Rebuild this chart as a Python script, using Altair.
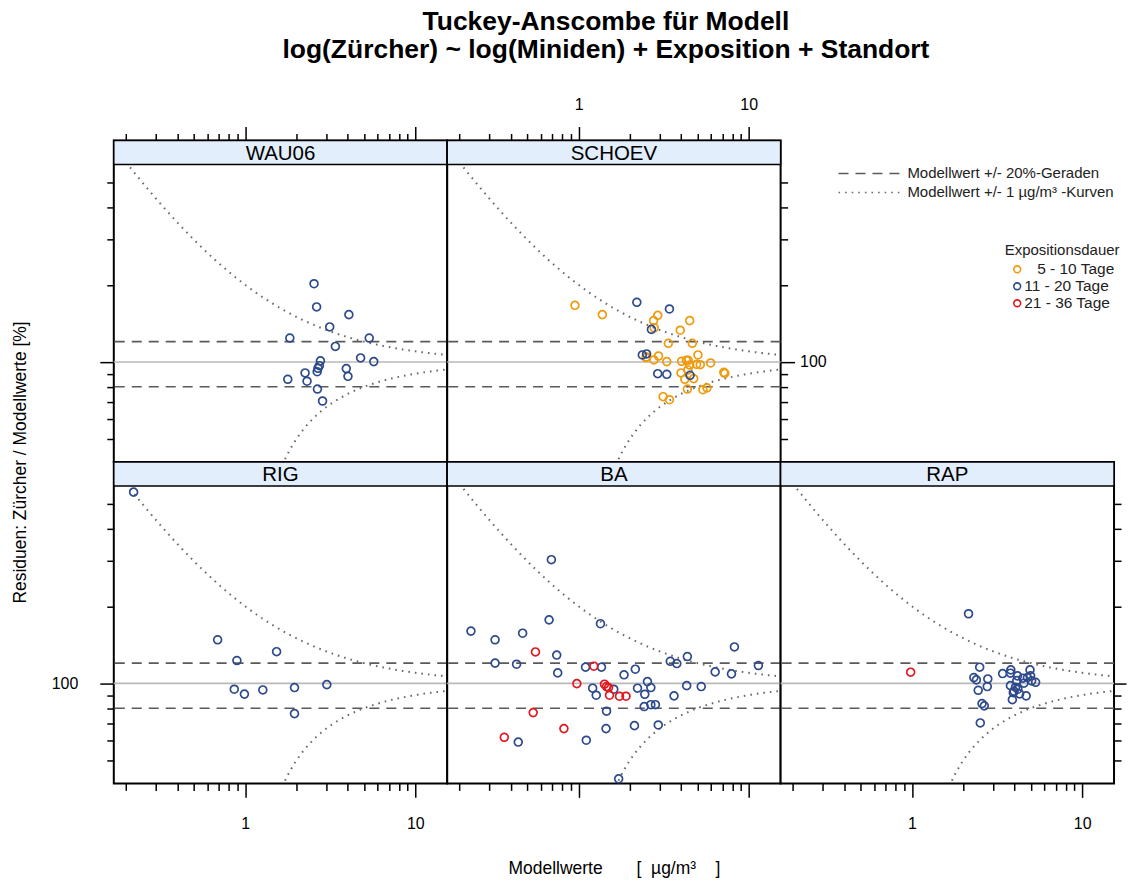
import altair as alt
import pandas as pd

FONT = "Liberation Sans"

# ---------------- data ----------------
x_minor_ticks = [0.2, 0.3, 0.4, 0.5, 0.6, 0.7, 0.8, 0.9, 2, 3, 4, 5, 6, 7, 8, 9]
x_major_ticks = [1, 10]
y_minor_ticks = [50, 60, 70, 80, 90, 200, 300, 400, 500]
y_major_ticks = [100]
x_domain = [0.169, 15.4]
y_domain = [40.7, 590]

ref_line = [100]            # Modellwert
ref_band = [80, 120]        # Modellwert +/- 20 %
ref_offset_ug = 1           # Modellwert +/- 1 ug/m3

duration_labels = ["5 - 10 Tage", "11 - 20 Tage", "21 - 36 Tage"]
duration_colors = ["#F09A0C", "#2D4A8C", "#E3171E"]

sites = ["WAU06", "SCHOEV", "RIG", "BA", "RAP"]

# WAU06
wau06_11_20_x = [2.54, 2.63, 4.07, 3.14, 1.83, 5.36, 3.39, 2.77, 4.77, 5.70, 2.73, 2.68, 2.65, 2.25, 3.93, 1.78, 2.31, 4.02, 2.66, 2.85]
wau06_11_20_y = [202, 164, 153, 137, 124, 124, 115, 101, 103.7, 100.3, 96.7, 94.5, 91.6, 90.6, 94.2, 85.6, 84.1, 87.9, 78.4, 70.4]

# SCHOEV
schoev_5_10_x = [0.952, 1.38, 2.92, 2.76, 4.50, 3.96, 3.37, 4.66, 2.95, 5.03, 2.49, 2.77, 3.30, 4.03, 4.30, 4.41, 4.94, 5.19, 5.97, 4.00, 4.21, 4.75, 4.39, 7.14, 7.24, 4.36, 5.38, 5.68, 3.14, 3.42, 2.51, 2.78, 4.50]
schoev_5_10_y = [166.4, 153, 152, 145, 145, 133, 118.3, 118.3, 105.5, 106.5, 104, 101.8, 100.3, 100.6, 101.5, 101.5, 97.9, 97.6, 99.1, 90.6, 85.6, 86.1, 93.1, 91.1, 90.3, 78.4, 77.9, 79.3, 73.2, 71.2, 104.6, 136, 97.3]
schoev_11_20_x = [2.20, 3.42, 2.68, 2.37, 2.51, 2.92, 3.30, 4.52]
schoev_11_20_y = [171, 161, 134, 106.5, 107.5, 90, 89.5, 88.7]

# RIG
rig_11_20_x = [0.221, 0.689, 0.894, 1.53, 0.863, 0.99, 1.27, 1.95, 3.02, 1.95]
rig_11_20_y = [558, 148, 122.8, 133, 94.9, 90.8, 94.3, 96.3, 98.9, 76.2]

# BA
ba_11_20_x = [0.692, 0.233, 0.323, 0.469, 0.671, 1.345, 0.744, 0.323, 0.432, 0.754, 1.099, 1.363, 1.85, 2.155, 3.46,
              3.78, 4.36, 8.24, 11.4, 6.35, 7.92, 2.54, 2.66, 2.22, 1.21, 1.27, 1.61, 2.45, 3.64, 4.32,
              5.26, 2.43, 2.66, 2.83, 1.46, 1.45, 2.13, 2.94, 1.11, 0.442, 1.72]
ba_11_20_y = [304, 160, 148, 157, 177, 171, 129, 120, 118.8, 109.9, 115.7, 115.7, 108, 113.6, 122,
              119.5, 127.3, 138.8, 117.4, 110.9, 108.9, 101.6, 96.3, 95.8, 95.8, 89.9, 94.9, 90.7, 89.4, 98,
              97.2, 81.2, 82.6, 82.6, 77.9, 66.6, 68.4, 68.8, 60, 59, 42.4]
ba_21_36_x = [0.558, 1.23, 0.977, 1.42, 1.46, 1.50, 1.52, 1.74, 1.90, 0.541, 0.82, 0.366]
ba_21_36_y = [132.7, 116.7, 99.8, 99.3, 97.2, 96.3, 89.9, 89.1, 89.1, 76.9, 66.6, 61.6]

# RAP
rap_11_20_x = [2.15, 2.50, 2.31, 2.39, 2.79, 2.77, 2.45, 2.58, 2.66, 2.52, 3.41, 3.81, 3.79, 4.17, 4.48,
               4.94, 4.98, 4.77, 5.33, 5.05, 4.13, 4.55, 3.79, 4.06, 3.98, 4.29, 4.69, 3.89, 4.19, 3.94]
rap_11_20_y = [187, 115.7, 105.4, 103.2, 104.1, 97.2, 94, 83.4, 81.7, 70.1, 109.2, 112.9, 109.6, 107, 104.8,
               112.9, 107, 105.3, 101, 102.3, 102.5, 100.2, 98, 96.6, 93.2, 91, 89.4, 86.4, 94.9, 92]
rap_21_36_x = [0.982]
rap_21_36_y = [110.6]

NB = "\u00a0"
title_lines = ["Tuckey-Anscombe für Modell",
               "log(Zürcher) ~ log(Miniden) + Exposition + Standort"]
x_title = "Modellwerte" + NB * 7 + "[" + NB * 2 + "µg/m³" + NB * 4 + "]"
y_title = "Residuen: Zürcher / Modellwerte [%]"
ref_labels = ["Modellwert +/- 20%-Geraden", "Modellwert +/- 1 µg/m³ -Kurven"]
legend_title = "Expositionsdauer"

site_series = {
    "WAU06": [(duration_labels[1], wau06_11_20_x, wau06_11_20_y)],
    "SCHOEV": [(duration_labels[0], schoev_5_10_x, schoev_5_10_y),
               (duration_labels[1], schoev_11_20_x, schoev_11_20_y)],
    "RIG": [(duration_labels[1], rig_11_20_x, rig_11_20_y)],
    "BA": [(duration_labels[1], ba_11_20_x, ba_11_20_y),
           (duration_labels[2], ba_21_36_x, ba_21_36_y)],
    "RAP": [(duration_labels[1], rap_11_20_x, rap_11_20_y),
            (duration_labels[2], rap_21_36_x, rap_21_36_y)],
}

# ---------------- layout / style ----------------
W = 334
SH = 24
PH = 298
H = SH + PH
STRIP_FILL = "#E3EEFC"
DASH = [10, 7]
DOT = [1.6, 5]
DASH_COLOR = "#5A5A5A"
DOT_COLOR = "#6A6A6A"
TICK_FONT_SIZE = 16

xscale = alt.Scale(type="log", domain=x_domain, nice=False)
yscale = alt.Scale(type="log", domain=y_domain, range=[H, SH], nice=False)
cscale = alt.Scale(domain=duration_labels, range=duration_colors)

LABEL_PAD = {"top": 14, "bottom": 18, "left": 22, "right": 5}


def axis(orient, values, size, labels, extra=None):
    kw = dict(orient=orient, values=values, tickSize=size, tickWidth=1.5,
              tickColor="black", domain=False, grid=False, labels=labels,
              format=".0f", labelFont=FONT, labelFontSize=TICK_FONT_SIZE, labelColor="black",
              labelPadding=LABEL_PAD[orient], title=None)
    if extra:
        kw.update(extra)
    return alt.Axis(**kw)


panel_cfg = {
    "WAU06": dict(xo="top", xl=False, yo="left", yl=False, ymaj=14,
                  yextra=dict(title=y_title, titleX=-93, titleY=H, titleAngle=270,
                              titleAlign="center", titleBaseline="middle",
                              titleFont=FONT, titleFontSize=17.5, titleFontWeight="normal",
                              titleColor="black")),
    "SCHOEV": dict(xo="top", xl=True, yo="right", yl=True, ymaj=14),
    "RIG": dict(xo="bottom", xl=True, yo="left", yl=True, ymaj=14),
    "BA": dict(xo="bottom", xl=False, yo=None, yl=False, ymaj=14,
               xextra=dict(title=x_title, titleY=85, titleBaseline="middle",
                           titleFont=FONT, titleFontSize=17.5, titleFontWeight="normal",
                           titleColor="black")),
    "RAP": dict(xo="bottom", xl=True, yo="right", yl=False, ymaj=12),
}


def make_panel(site):
    cfg = panel_cfg[site]
    xa_minor = axis(cfg["xo"], x_minor_ticks, 7, False)
    xa_major = axis(cfg["xo"], x_major_ticks, 14, cfg["xl"], cfg.get("xextra"))
    if cfg["yo"]:
        ya_minor = axis(cfg["yo"], y_minor_ticks, 7, False)
        ya_major = axis(cfg["yo"], y_major_ticks, cfg["ymaj"], cfg["yl"], cfg.get("yextra"))
    else:
        ya_minor = None
        ya_major = None

    rows = []
    for lab, xs, ys in site_series[site]:
        for xv, yv in zip(xs, ys):
            rows.append({"modell": xv, "resid": yv, "dauer": lab})
    df = pd.DataFrame(rows)

    hline = alt.Chart(pd.DataFrame({"v": ref_line})).mark_rule(
        color="#B9B9B9", strokeWidth=1.6
    ).encode(y=alt.Y("v:Q", scale=yscale, axis=None))

    band = alt.Chart(pd.DataFrame({"v": ref_band})).mark_rule(
        color=DASH_COLOR, strokeWidth=1.6, strokeDash=DASH
    ).encode(y=alt.Y("v:Q", scale=yscale, axis=None))

    curves = alt.Chart(alt.sequence(0, 241, as_="i")).transform_calculate(
        modell=f"exp(log({x_domain[0]}) + datum.i * (log({x_domain[1]}) - log({x_domain[0]})) / 240)"
    ).transform_calculate(
        upper=f"100 * (datum.modell + {ref_offset_ug}) / datum.modell",
        lower=f"100 * (datum.modell - {ref_offset_ug}) / datum.modell",
    ).transform_fold(["upper", "lower"], as_=["kurve", "wert"]).transform_filter(
        "datum.wert > 0"
    ).mark_line(clip=True, color=DOT_COLOR, strokeWidth=2, strokeDash=DOT).encode(
        x=alt.X("modell:Q", scale=xscale, axis=xa_major),
        y=alt.Y("wert:Q", scale=yscale, axis=ya_major),
        detail="kurve:N",
        order="i:Q",
    )

    pts = alt.Chart(df).mark_point(filled=False, size=62, strokeWidth=1.7, opacity=1).encode(
        x=alt.X("modell:Q", scale=xscale, axis=xa_minor),
        y=alt.Y("resid:Q", scale=yscale, axis=ya_minor),
        color=alt.Color("dauer:N", scale=cscale, legend=None),
    )

    sdf = pd.DataFrame({"site": [site]})
    strip = alt.Chart(sdf).mark_rect(fill=STRIP_FILL, stroke="black", strokeWidth=1.5).encode(
        x=alt.value(0), x2=alt.value(W), y=alt.value(0), y2=alt.value(SH)
    )
    strip_text = alt.Chart(sdf).mark_text(font=FONT, fontSize=20.5, color="black",
                                          baseline="middle", align="center").encode(
        x=alt.value(W / 2), y=alt.value(SH / 2 + 1), text="site:N"
    )

    return alt.layer(hline, band, curves, pts, strip, strip_text).resolve_axis(
        x="independent", y="independent"
    ).properties(width=W, height=H,
                 view=alt.ViewBackground(stroke="black", strokeWidth=2, fill="white"))


def make_legend():
    layers = []
    key_y = [33, 52]
    for lab, dash, col, yy in zip(ref_labels, [DASH, DOT], [DASH_COLOR, DOT_COLOR], key_y):
        d = pd.DataFrame({"t": [lab]})
        layers.append(alt.Chart(d).mark_rule(strokeDash=dash, color=col, strokeWidth=1.6).encode(
            x=alt.value(58), x2=alt.value(121), y=alt.value(yy)))
        layers.append(alt.Chart(d).mark_text(font=FONT, fontSize=15, align="left",
                                             baseline="middle", color="#222222").encode(
            x=alt.value(127), y=alt.value(yy), text="t:N"))
    layers.append(alt.Chart(pd.DataFrame({"t": [legend_title]})).mark_text(
        font=FONT, fontSize=15, align="center", baseline="middle", color="#222222").encode(
        x=alt.value(282), y=alt.value(110), text="t:N"))
    item_y = [129, 146, 163]
    item_text_x = [257, 244, 244]
    for lab, tx, yy in zip(duration_labels, item_text_x, item_y):
        d = pd.DataFrame({"t": [lab]})
        layers.append(alt.Chart(d).mark_point(filled=False, size=46, strokeWidth=1.6, opacity=1).encode(
            x=alt.value(237), y=alt.value(yy),
            color=alt.Color("t:N", scale=cscale, legend=None)))
        layers.append(alt.Chart(d).mark_text(font=FONT, fontSize=15.5, align="left",
                                             baseline="middle", color="#222222").encode(
            x=alt.value(tx), y=alt.value(yy), text="t:N"))
    return alt.layer(*layers).properties(
        width=W, height=H, view=alt.ViewBackground(stroke="transparent", fill="transparent"))


cells = [make_panel("WAU06"), make_panel("SCHOEV"), make_legend(),
         make_panel("RIG"), make_panel("BA"), make_panel("RAP")]

chart = alt.concat(*cells, columns=3, spacing=0, bounds="flush").properties(
    title=alt.TitleParams(text=title_lines, font=FONT, fontSize=26.5, fontWeight="bold",
                          anchor="middle", frame="group", dx=493, offset=32, lineHeight=28,
                          color="black"),
    padding={"left": 11, "top": 8, "right": 1, "bottom": 5},
    background="white",
).configure(font=FONT)

chart.save("out.html", embed_options={"renderer": "svg", "actions": False})
